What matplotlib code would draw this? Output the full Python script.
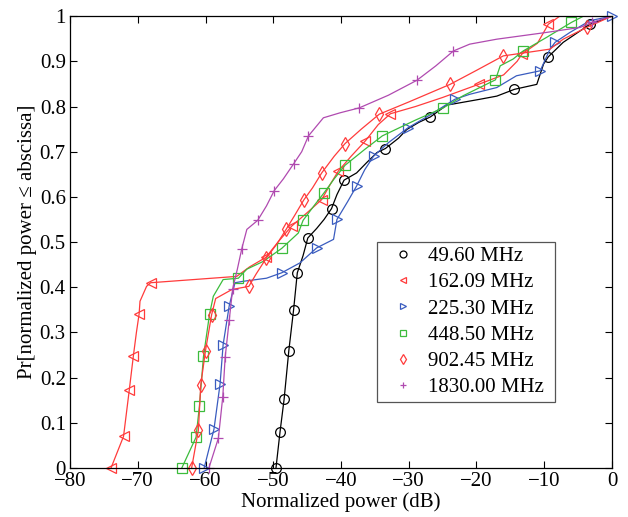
import numpy as np
import matplotlib
matplotlib.use("Agg")
import matplotlib.pyplot as plt

plt.rcParams['font.family'] = ['Liberation Serif', 'DejaVu Serif']

# ---- data (x = normalized power in dB, y = CDF) ----
x_4960 = [-49.6, -49.0, -48.4, -47.7, -47.0, -46.45, -45.6, -44.9, -43.6, -42.5, -41.4, -40.6, -39.55,
          -37.7, -36.2, -34.7, -33.45, -31.5, -30.3, -28.5, -26.8, -24.4, -19.5, -17.0, -14.4, -11.1,
          -10.1, -9.4, -7.2, -3.25, 0]
y_4960 = [0, 0.08, 0.152, 0.26, 0.35, 0.432, 0.47, 0.509, 0.53, 0.55, 0.574, 0.605, 0.637,
          0.653, 0.676, 0.698, 0.707, 0.73, 0.749, 0.765, 0.777, 0.803, 0.816, 0.823, 0.838, 0.849,
          0.894, 0.91, 0.942, 0.982, 1.0]
m_4960 = [0, 1, 2, 3, 4, 5, 7, 10, 12, 16, 20, 24, 27, 29]

x_16209 = [-73.95, -72.1, -71.25, -70.65, -70.2, -69.8, -69.67, -68.7, -68.1, -55.4, -53.5, -51.1,
           -49.3, -47.3, -45.0, -42.85, -41.5, -40.4, -38.5, -36.4, -34.5, -32.7, -29.0, -25.0,
           -19.7, -16.0, -14.0, -13.3, -11.0, -9.4, -7.7, 0]
y_16209 = [0, 0.07, 0.173, 0.248, 0.3, 0.341, 0.369, 0.402, 0.41, 0.424, 0.445, 0.466,
           0.5, 0.535, 0.565, 0.594, 0.63, 0.657, 0.69, 0.724, 0.76, 0.784, 0.8, 0.82,
           0.849, 0.87, 0.9, 0.916, 0.94, 0.982, 1.0, 1.0]
m_16209 = [0, 1, 2, 3, 5, 8, 11, 13, 15, 17, 19, 21, 24, 27, 29]

x_22530 = [-60.2, -58.75, -57.85, -57.4, -56.5, -55.65, -54.5, -51.0, -48.75, -46.05, -43.6, -41.1,
           -40.6, -39.0, -37.7, -36.5, -35.2, -33.0, -30.1, -27.0, -23.2, -21.0, -17.0, -14.1,
           -10.6, -9.15, -8.4, -6.2, -3.25, 0]
y_22530 = [0, 0.086, 0.186, 0.273, 0.359, 0.41, 0.413, 0.42, 0.432, 0.454, 0.487, 0.506,
           0.55, 0.59, 0.624, 0.66, 0.69, 0.72, 0.753, 0.78, 0.816, 0.827, 0.842, 0.868,
           0.879, 0.927, 0.942, 0.964, 0.99, 1.0]
m_22530 = [0, 1, 2, 3, 4, 8, 10, 12, 14, 16, 18, 20, 24, 26, 29]

x_44850 = [-63.5, -61.4, -60.9, -60.3, -59.4, -58.85, -57.4, -55.15, -53.9, -51.5, -48.75, -46.3,
           -45.6, -44.0, -42.5, -41.0, -39.4, -36.5, -33.9, -29.0, -24.9, -21.95, -17.2, -16.5,
           -14.6, -13.1, -9.65, -6.0, -4.2, 0]
y_44850 = [0, 0.068, 0.137, 0.247, 0.341, 0.38, 0.417, 0.42, 0.44, 0.457, 0.486, 0.52,
           0.548, 0.58, 0.609, 0.64, 0.67, 0.705, 0.735, 0.77, 0.797, 0.824, 0.859, 0.89,
           0.905, 0.923, 0.953, 0.986, 1.0, 1.0]
m_44850 = [0, 1, 2, 3, 4, 7, 10, 12, 14, 16, 18, 20, 22, 25, 27]

x_90245 = [-62.05, -61.05, -60.7, -60.0, -59.1, -58.5, -56.1, -53.6, -52.5, -51.0, -49.5, -48.1,
           -46.8, -45.5, -44.2, -42.85, -41.0, -39.4, -37.0, -34.35, -30.0, -23.9, -20.0, -16.05,
           -9.15, -7.2, -3.75, 0]
y_90245 = [0, 0.084, 0.184, 0.26, 0.339, 0.375, 0.395, 0.402, 0.43, 0.465, 0.495, 0.528,
           0.56, 0.593, 0.62, 0.653, 0.69, 0.718, 0.75, 0.783, 0.81, 0.849, 0.88, 0.912,
           0.927, 0.949, 0.975, 1.0]
m_90245 = [0, 1, 2, 3, 4, 7, 9, 11, 13, 15, 17, 19, 21, 23, 26]

x_1830 = [-59.5, -58.1, -57.45, -57.1, -56.5, -56.0, -55.3, -54.65, -53.9, -52.3, -51.0, -49.85,
          -48.5, -47.0, -45.8, -44.8, -42.6, -40.15, -37.3, -33.0, -28.8, -26.0, -23.4, -21.0,
          -17.0, -9.65, -4.7, -3.0, 0]
y_1830 = [0, 0.066, 0.158, 0.245, 0.327, 0.396, 0.44, 0.485, 0.528, 0.548, 0.58, 0.614,
          0.64, 0.673, 0.70, 0.735, 0.775, 0.786, 0.797, 0.825, 0.858, 0.89, 0.923, 0.938,
          0.949, 0.964, 0.975, 0.986, 1.0]
m_1830 = [0, 1, 2, 3, 4, 5, 7, 9, 11, 13, 15, 18, 20, 22, 27]

labels = ['49.60 MHz', '162.09 MHz', '225.30 MHz', '448.50 MHz', '902.45 MHz', '1830.00 MHz']

series = [
    (x_4960, y_4960, m_4960, 'o', '#000000'),
    (x_16209, y_16209, m_16209, '<', '#ff3b3b'),
    (x_22530, y_22530, m_22530, '>', '#3a5cbf'),
    (x_44850, y_44850, m_44850, 's', '#3cbc3c'),
    (x_90245, y_90245, m_90245, 'd', '#ff3b3b'),
    (x_1830, y_1830, m_1830, '+', '#b04ab0'),
]

fig = plt.figure(figsize=(6.28, 5.17), dpi=100)
ax = fig.add_axes([0.1115, 0.0948, 0.863, 0.874])

handles = []
for (x, y, mk, marker, col), lab in zip(series, labels):
    ms = 7
    ax.plot(x, y, '-', color=col, lw=0.9)
    ax.plot(np.array(x)[mk], np.array(y)[mk], linestyle='none', marker=marker, ms=ms,
            mfc='none', mec=col, mew=0.9, clip_on=False)
    h, = ax.plot([], [], linestyle='none', marker=marker, ms=ms - 2, mfc='none', mec=col,
                 mew=0.9, label=lab)
    handles.append(h)

ax.set_xlim(-80, 0)
ax.set_ylim(0, 1)
ax.set_xticks(np.arange(-80, 1, 10))
ax.set_yticks(np.arange(0, 1.01, 0.1))
ax.set_yticklabels(['0', '0.1', '0.2', '0.3', '0.4', '0.5', '0.6', '0.7', '0.8', '0.9', '1'])
ax.tick_params(direction='in', top=True, right=True, length=5, width=0.8, labelsize=15, pad=3)
for s in ax.spines.values():
    s.set_linewidth(0.9)

ax.set_xlabel('Normalized power (dB)', fontsize=15, labelpad=1)
ax.set_ylabel('Pr[normalized power ≤ abscissa]', fontsize=15, labelpad=2)

leg = ax.legend(handles=handles, loc='upper left', bbox_to_anchor=(0.566, 0.145, 0.329, 0.355),
                mode='expand', fontsize=15,
                frameon=True, fancybox=False, edgecolor='#555555', framealpha=1,
                borderaxespad=0, handlelength=2.1, handletextpad=0.15, borderpad=0.22,
                labelspacing=0.32)
leg.get_frame().set_linewidth(0.9)

fig.savefig('out.png', dpi=100)
